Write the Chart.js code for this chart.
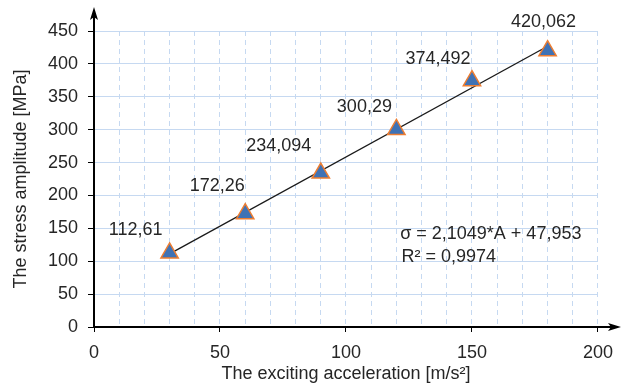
<!DOCTYPE html>
<html><head><meta charset="utf-8">
<script src="https://cdn.jsdelivr.net/npm/chart.js@4.4.1/dist/chart.umd.min.js"></script>
<style>html,body{margin:0;padding:0;background:#fff}#wrap{width:623px;height:392px}</style>
</head><body><div id="wrap"><canvas id="c" width="623" height="392"></canvas></div>
<script>
const accel = [30, 60, 90, 120, 150, 180];
const stress = [112.61, 172.26, 234.094, 300.29, 374.492, 420.062];
const pointLabels = ['112,61', '172,26', '234,094', '300,29', '374,492', '420,062'];
const trendSlope = 2.1049;
const trendIntercept = 47.953;
const equationLines = ['\u03C3 = 2,1049*A + 47,953', 'R\u00B2 = 0,9974'];
const xTitle = 'The exciting acceleration [m/s\u00B2]';
const yTitle = 'The stress amplitude [MPa]';

const FONT = '"Liberation Sans", Arial, sans-serif';
const TXT = '#262626';
const FS = 18;

const trendX = [accel[0], accel[accel.length - 1]];
const trendData = trendX.map(x => ({x: x, y: trendSlope * x + trendIntercept}));

const labelOffsets = [[-34,-23],[-28,-28],[-42,-27],[-32,-22],[-34,-22],[-4,-29]];

const extras = {
  id: 'extras',
  afterDatasetsDraw(chart) {
    const ctx = chart.ctx, a = chart.chartArea;
    const xs = chart.scales.x, ys = chart.scales.y;
    ctx.save();
    ctx.strokeStyle = '#000'; ctx.fillStyle = '#000'; ctx.lineWidth = 2;
    ctx.beginPath(); ctx.moveTo(a.left, a.bottom + 1); ctx.lineTo(a.left, 14); ctx.stroke();
    ctx.beginPath(); ctx.moveTo(a.left, 7); ctx.lineTo(a.left - 4, 20); ctx.lineTo(a.left, 17); ctx.lineTo(a.left + 4, 20); ctx.closePath(); ctx.fill();
    ctx.beginPath(); ctx.moveTo(a.left - 1, a.bottom); ctx.lineTo(614, a.bottom); ctx.stroke();
    ctx.beginPath(); ctx.moveTo(621, a.bottom); ctx.lineTo(608, a.bottom - 4); ctx.lineTo(611, a.bottom); ctx.lineTo(608, a.bottom + 4); ctx.closePath(); ctx.fill();
    ctx.font = FS + 'px ' + FONT; ctx.fillStyle = TXT;
    ctx.textAlign = 'center'; ctx.textBaseline = 'middle';
    const meta = chart.getDatasetMeta(0);
    meta.data.forEach((p, i) => {
      const o = labelOffsets[i];
      ctx.fillText(pointLabels[i], p.x + o[0], p.y + o[1]);
    });
    ctx.textAlign = 'left';
    ctx.fillText(equationLines[0], xs.getPixelForValue(121.5), ys.getPixelForValue(141));
    ctx.fillText(equationLines[1], xs.getPixelForValue(122), ys.getPixelForValue(107));
    ctx.restore();
  }
};

new Chart(document.getElementById('c'), {
  type: 'scatter',
  data: {
    datasets: [
      {
        data: accel.map((x, i) => ({x: x, y: stress[i]})),
        pointStyle: 'triangle', radius: 10, hoverRadius: 10,
        backgroundColor: '#3F72B5', borderColor: '#ED7D31', borderWidth: 1.5,
        order: 0
      },
      {
        type: 'line', data: trendData, showLine: true,
        borderColor: '#1a1a1a', borderWidth: 1.3, pointRadius: 0, fill: false,
        order: 1
      }
    ]
  },
  options: {
    responsive: false, animation: false,
    layout: {padding: {top: 31, right: 25, left: 0, bottom: 0}},
    plugins: {legend: {display: false}, tooltip: {enabled: false}},
    scales: {
      x: {
        type: 'linear', min: 0, max: 200,
        afterFit(s) { s.height = 65; },
        border: {display: false, dash: [5, 4]},
        ticks: {stepSize: 10, autoSkip: false, maxRotation: 0, padding: 10,
          color: TXT, font: {family: FONT, size: FS},
          callback: v => (v % 50 === 0 ? String(v) : '')},
        grid: {color: '#C6D9F1', lineWidth: 1, tickLength: 5,
          tickColor: c => (c.tick && c.tick.value % 50 === 0 ? '#000' : 'rgba(0,0,0,0)')},
        title: {display: true, text: xTitle, color: TXT, font: {family: FONT, size: FS}, padding: {top: 0, bottom: 7}}
      },
      y: {
        type: 'linear', min: 0, max: 450,
        afterFit(s) { s.width = 94; },
        border: {display: false},
        ticks: {stepSize: 50, padding: 10, color: TXT, font: {family: FONT, size: FS}},
        grid: {color: '#C6D9F1', lineWidth: 1, tickLength: 6, tickColor: '#000'},
        title: {display: true, text: yTitle, color: TXT, font: {family: FONT, size: FS}, padding: {top: 10, bottom: 0}}
      }
    }
  },
  plugins: [extras]
});
</script>
</body></html>
